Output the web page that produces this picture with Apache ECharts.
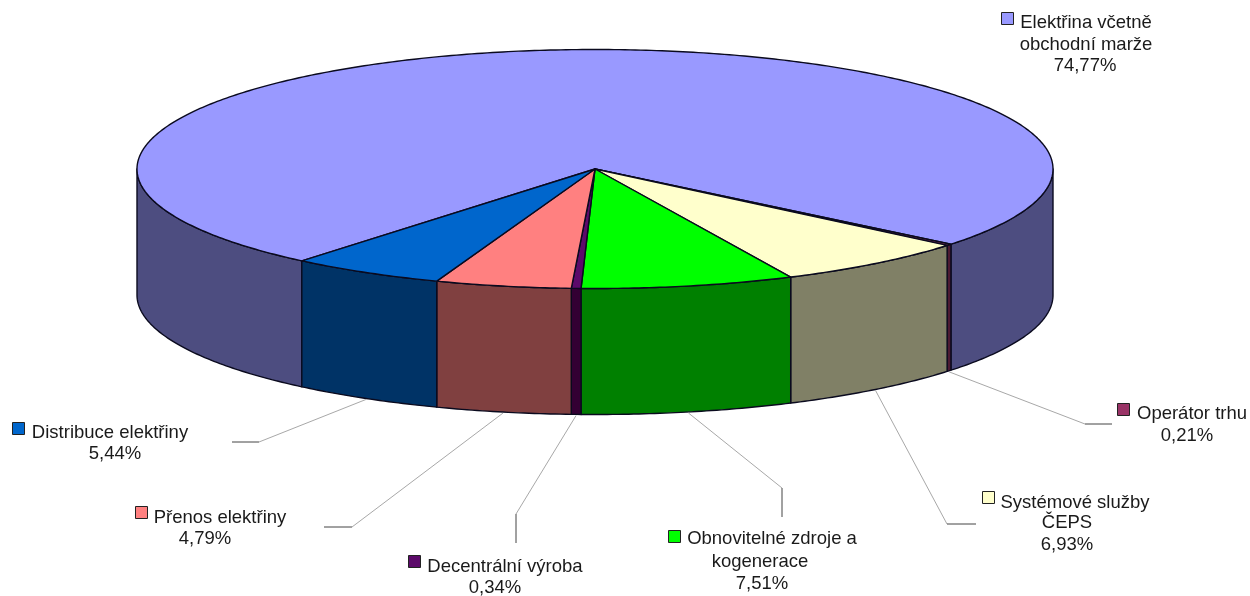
<!DOCTYPE html>
<html><head><meta charset="utf-8">
<style>html,body{margin:0;padding:0;background:#fff}#c{width:1250px;height:596px}</style>
<script src="https://cdn.jsdelivr.net/npm/echarts@6/dist/echarts.min.js"></script>
</head><body><div id="c"></div>
<script>
var categories = ['Elektřina včetně obchodní marže','Operátor trhu','Systémové služby ČEPS','Obnovitelné zdroje a kogenerace','Decentrální výroba','Přenos elektřiny','Distribuce elektřiny'];
var values = [74.77,0.21,6.93,7.51,0.34,4.79,5.44];
var labelLines = [['Elektřina včetně','obchodní marže'],['Operátor trhu'],['Systémové služby','ČEPS'],['Obnovitelné zdroje a','kogenerace'],['Decentrální výroba'],['Přenos elektřiny'],['Distribuce elektřiny']];
var topColors = ['#9999FF','#993366','#FFFFCC','#00FF00','#5C0A6A','#FF8080','#0066CC'];
var sideColors = ['#4D4D80','#4D1A33','#808066','#008000','#330033','#804040','#003366'];

// Layout of the drawing (not data)
var cx = 595, cy = 169, rx = 458, ry = 119.5, depth = 126, startDeg = 129.8;
var keyBoxes = [[1001,12],[1117,403],[982,491],[668,530],[408,555],[135,506],[12,422]];
var lineCentersX = [[1086,1086,1085],[1192,1187],[1075,1067,1067],[772,760,762],[505,495],[220,205],[110,115]];
var lineY = [[23,45,66],[414,436],[503,523,545],[539,562,584],[567,588],[518,539],[433,454]];
var elbows = [null,[[1085,424],[1112,424]],[[947,524],[976,524]],[[782,488],[782,517]],[[516,514],[516,543]],[[352,527],[324,527]],[[259,442],[232,442]]];

var total = values.reduce(function(a,b){return a+b;},0);
function rad(d){return d*Math.PI/180;}
function pt(d,dy){return [cx+rx*Math.cos(rad(d)), cy+(dy||0)+ry*Math.sin(rad(d))];}
function arc(a,b,dy){var n=Math.max(2,Math.ceil(Math.abs(b-a)*1.5)),p=[];for(var i=0;i<=n;i++)p.push(pt(a+(b-a)*i/n,dy));return p;}
function wall(a,b,color){
  return {type:'polygon',z2:1,shape:{points:arc(a,b,0).concat(arc(b,a,depth))},
    style:{fill:color,stroke:'#0a0a1e',lineWidth:1.4,lineJoin:'round'}};
}
var starts = [], acc = startDeg;
values.forEach(function(v){starts.push(acc);acc+=v/total*360;});

function renderItem(params, api){
  var i = params.dataIndex, v = api.value(1);
  var a = starts[i], b = a + v/total*360, ch = [];
  [[a,b]].forEach(function(r){
    for(var k=0;k<2;k++){
      var off=k*360, lo=Math.max(r[0],off), hi=Math.min(r[1],off+180);
      if(hi>lo) ch.push(wall(lo,hi,sideColors[i]));
    }
  });
  ch.push({type:'polygon',z2:3,shape:{points:[[cx,cy]].concat(arc(a,b,0))},
    style:{fill:topColors[i],stroke:'#0a0a1e',lineWidth:1.4,lineJoin:'round'}});
  if(elbows[i]){
    var mid=(a+b)/2, p0=pt(mid,depth+1);
    ch.push({type:'line',z2:5,shape:{x1:p0[0],y1:p0[1],x2:elbows[i][0][0],y2:elbows[i][0][1]},style:{stroke:'#a8a8a8',lineWidth:1}});
    ch.push({type:'line',z2:5,shape:{x1:elbows[i][0][0],y1:elbows[i][0][1],x2:elbows[i][1][0],y2:elbows[i][1][1]},style:{stroke:'#444',lineWidth:1}});
  }
  ch.push({type:'rect',z2:6,shape:{x:keyBoxes[i][0]+.5,y:keyBoxes[i][1]+.5,width:12,height:12},style:{fill:topColors[i],stroke:'#222',lineWidth:1}});
  var lines = labelLines[i].concat([v.toFixed(2).replace('.',',')+'%']);
  lines.forEach(function(t,k){
    ch.push({type:'text',z2:6,style:{text:t,x:lineCentersX[i][k],y:lineY[i][k],align:'center',verticalAlign:'middle',
      font:'18.5px "Liberation Sans", Arial, sans-serif',fill:'#1a1a1a'}});
  });
  return {type:'group',children:ch};
}
var chart = echarts.init(document.getElementById('c'),null,{renderer:'canvas'});
chart.setOption({
  animation:false,backgroundColor:'#fff',
  series:[{type:'custom',coordinateSystem:'none',silent:true,clip:false,renderItem:renderItem,
    data:values.map(function(v,i){return [categories[i],v];}),
    encode:{value:1}}]
});
</script></body></html>
